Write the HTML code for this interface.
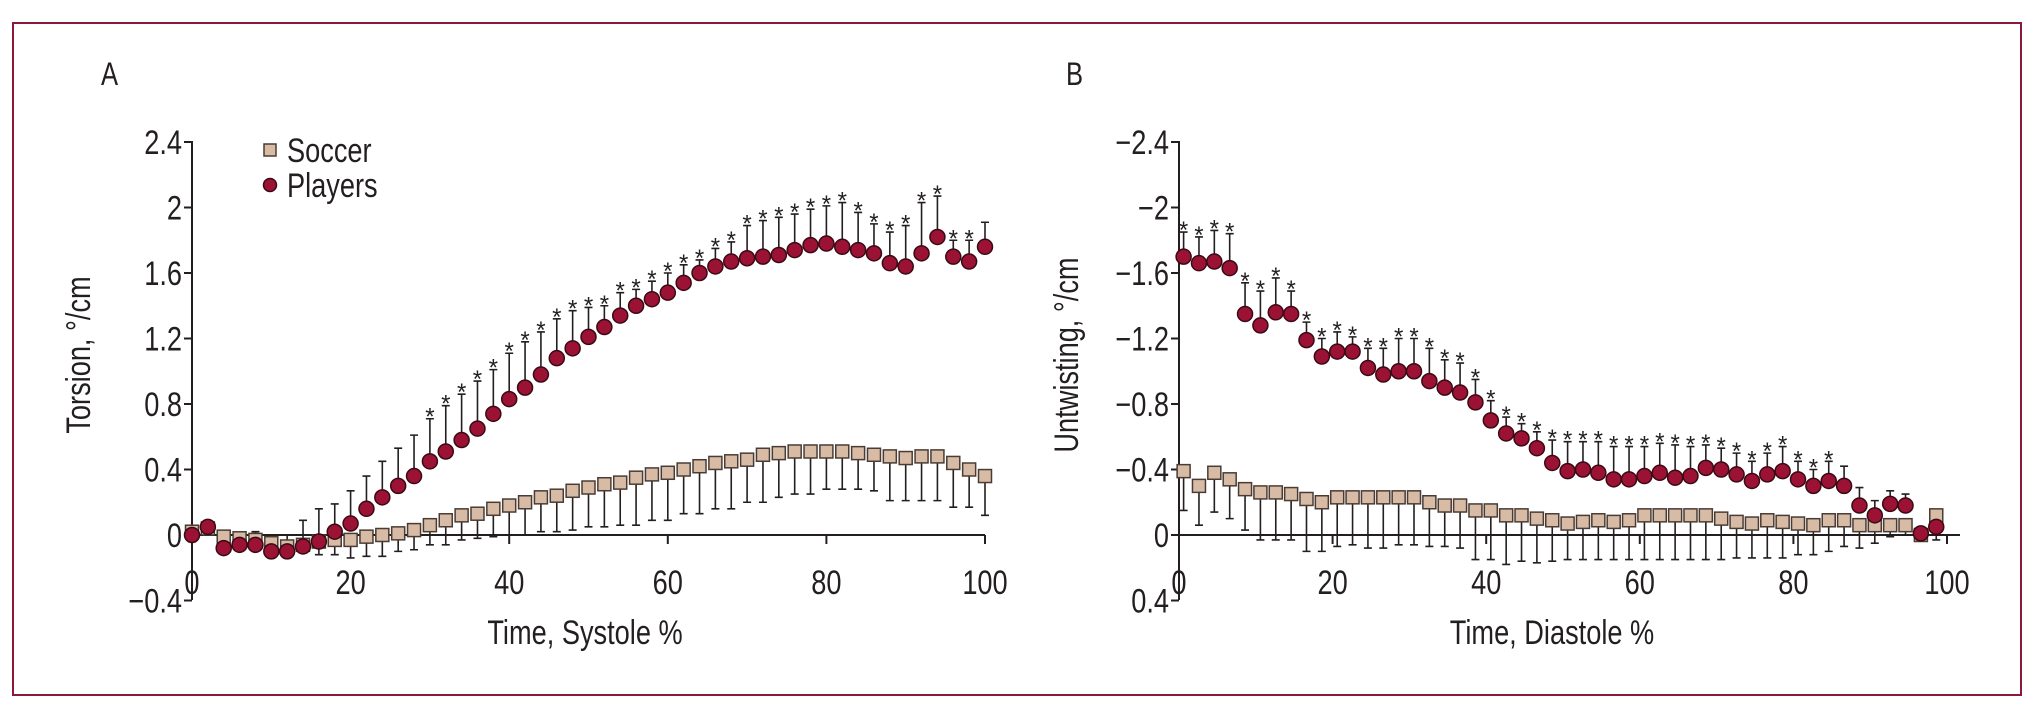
<!DOCTYPE html>
<html><head><meta charset="utf-8"><style>
html,body{margin:0;padding:0;background:#fff;}
svg text{font-family:"Liberation Sans Narrow","Liberation Sans",sans-serif;fill:#231f20;}
</style></head><body>
<svg id="chart" width="2037" height="708" xmlns="http://www.w3.org/2000/svg">
<rect x="13" y="23" width="2008" height="672" fill="#fff" stroke="#8b1a3a" stroke-width="2"/>
<g id="pa"></g>
<g id="pb"></g>
<g id="lg"></g>
</svg>
<script>
const yTicksA = [2.4, 2, 1.6, 1.2, 0.8, 0.4, 0, -0.4];
const yTickLabelsA = ["2.4","2","1.6","1.2","0.8","0.4","0","\u22120.4"];
const yTicksB = [-2.4, -2, -1.6, -1.2, -0.8, -0.4, 0, 0.4];
const yTickLabelsB = ["\u22122.4","\u22122","\u22121.6","\u22121.2","\u22120.8","\u22120.4","0","0.4"];
const xTicks = [0, 20, 40, 60, 80, 100];

const xA = [0,2,4,6,8,10,12,14,16,18,20,22,24,26,28,30,32,34,36,38,40,42,44,46,48,50,52,54,56,58,60,62,64,66,68,70,72,74,76,78,80,82,84,86,88,90,92,94,96,98,100];
const playersA = [0,0.05,-0.08,-0.06,-0.06,-0.1,-0.1,-0.07,-0.04,0.02,0.07,0.16,0.23,0.3,0.36,0.45,0.51,0.58,0.65,0.74,0.83,0.9,0.98,1.08,1.14,1.21,1.27,1.34,1.4,1.44,1.48,1.54,1.6,1.64,1.67,1.69,1.7,1.71,1.74,1.77,1.78,1.76,1.74,1.72,1.66,1.64,1.72,1.82,1.7,1.67,1.76];
const playersSdA = [0,0,0.05,0.06,0.08,0.1,0.1,0.16,0.2,0.17,0.2,0.2,0.22,0.23,0.25,0.26,0.28,0.28,0.29,0.27,0.28,0.28,0.26,0.24,0.23,0.18,0.13,0.14,0.1,0.11,0.12,0.11,0.08,0.11,0.12,0.2,0.22,0.23,0.22,0.22,0.23,0.27,0.23,0.18,0.19,0.25,0.31,0.25,0.1,0.13,0.15];
const soccerA = [0.02,0.04,-0.01,-0.02,-0.03,-0.05,-0.07,-0.06,-0.04,-0.03,-0.03,-0.01,0,0.01,0.03,0.06,0.09,0.12,0.13,0.16,0.18,0.2,0.23,0.24,0.27,0.29,0.31,0.32,0.35,0.37,0.38,0.4,0.42,0.44,0.45,0.46,0.49,0.5,0.51,0.51,0.51,0.51,0.5,0.49,0.48,0.47,0.48,0.48,0.44,0.4,0.36];
const soccerSdA = [0,0,0.03,0.04,0.05,0.05,0.06,0.04,0.08,0.09,0.11,0.12,0.13,0.11,0.12,0.12,0.15,0.15,0.15,0.17,0.18,0.2,0.21,0.22,0.24,0.24,0.26,0.26,0.29,0.28,0.29,0.27,0.29,0.28,0.29,0.26,0.29,0.27,0.26,0.26,0.23,0.23,0.22,0.22,0.27,0.26,0.27,0.27,0.27,0.23,0.24];
const starsA = [0,0,0,0,0,0,0,0,0,0,0,0,0,0,0,1,1,1,1,1,1,1,1,1,1,1,1,1,1,1,1,1,1,1,1,1,1,1,1,1,1,1,1,1,1,1,1,1,1,1,0];

const xB = [0.6,2.6,4.6,6.6,8.6,10.6,12.6,14.6,16.6,18.6,20.6,22.6,24.6,26.6,28.6,30.6,32.6,34.6,36.6,38.6,40.6,42.6,44.6,46.6,48.6,50.6,52.6,54.6,56.6,58.6,60.6,62.6,64.6,66.6,68.6,70.6,72.6,74.6,76.6,78.6,80.6,82.6,84.6,86.6,88.6,90.6,92.6,94.6,96.6,98.6];
const playersB = [-1.70,-1.66,-1.67,-1.63,-1.35,-1.28,-1.36,-1.35,-1.19,-1.09,-1.12,-1.12,-1.02,-0.98,-1.00,-1.00,-0.94,-0.90,-0.87,-0.81,-0.70,-0.62,-0.59,-0.53,-0.44,-0.39,-0.40,-0.38,-0.34,-0.34,-0.36,-0.38,-0.35,-0.36,-0.41,-0.40,-0.37,-0.33,-0.37,-0.39,-0.34,-0.30,-0.33,-0.30,-0.18,-0.12,-0.19,-0.18,-0.01,-0.05];
const playersSdB = [0.15,0.16,0.19,0.21,0.19,0.21,0.21,0.14,0.11,0.11,0.12,0.09,0.12,0.16,0.2,0.2,0.2,0.17,0.18,0.14,0.12,0.1,0.09,0.1,0.14,0.18,0.17,0.19,0.2,0.2,0.18,0.18,0.2,0.18,0.14,0.13,0.13,0.12,0.13,0.15,0.11,0.1,0.12,0.12,0.11,0.09,0.08,0.07,0,0];
const soccerB = [-0.39,-0.3,-0.38,-0.34,-0.28,-0.26,-0.26,-0.25,-0.22,-0.2,-0.23,-0.23,-0.23,-0.23,-0.23,-0.23,-0.2,-0.18,-0.18,-0.15,-0.15,-0.12,-0.12,-0.1,-0.09,-0.07,-0.08,-0.09,-0.08,-0.09,-0.12,-0.12,-0.12,-0.12,-0.12,-0.1,-0.08,-0.07,-0.09,-0.08,-0.07,-0.06,-0.09,-0.09,-0.06,-0.06,-0.06,-0.06,0,-0.12];
const soccerSdB = [0.24,0.24,0.24,0.24,0.25,0.29,0.29,0.28,0.32,0.3,0.3,0.29,0.31,0.31,0.29,0.29,0.27,0.25,0.26,0.3,0.3,0.3,0.28,0.27,0.25,0.22,0.23,0.24,0.23,0.24,0.27,0.27,0.27,0.27,0.27,0.25,0.22,0.21,0.23,0.22,0.19,0.18,0.19,0.16,0.14,0.11,0.07,0.06,0,0.15];
const starsB = [1,1,1,1,1,1,1,1,1,1,1,1,1,1,1,1,1,1,1,1,1,1,1,1,1,1,1,1,1,1,1,1,1,1,1,1,1,1,1,1,1,1,1,0,0,0,0,0,0,0];

const NS = "http://www.w3.org/2000/svg";
const SX = 0.8;
function mk(parent, tag, attrs, txt){
  const e = document.createElementNS(NS, tag);
  for (const k in attrs) e.setAttribute(k, attrs[k]);
  if (txt !== undefined) e.textContent = txt;
  parent.appendChild(e); return e;
}
function txt(parent, x, y, size, anchor, s, rot){
  const t = rot ? `translate(${x},${y}) rotate(-90) scale(${SX},1)` : `translate(${x},${y}) scale(${SX},1)`;
  return mk(parent,"text",{x:0,y:0,"font-size":size,"text-anchor":anchor,transform:t},s);
}
const Y0 = 535, PER = 163.75;
function buildPanel(g, cfg){
  const X = v => cfg.x0 + v * cfg.xs;
  const Y = v => Y0 - cfg.sign * v * PER;
  const ink = "#231f20";
  let e;
  e = txt(g,cfg.labX,85,32,"start",cfg.letter);
  
  
  e = mk(g,"line",{x1:cfg.x0,y1:141,x2:cfg.x0,y2:600,stroke:ink,"stroke-width":2});
  
  
  e = mk(g,"line",{x1:cfg.x0,y1:Y0,x2:cfg.zeroEnd,y2:Y0,stroke:ink,"stroke-width":2});
  
  
  cfg.yTicks.forEach((t,i)=>{
    const y = Y(t);
    e = mk(g,"line",{x1:cfg.x0-8,y1:y,x2:cfg.x0,y2:y,stroke:ink,"stroke-width":2});
    
    
    e = txt(g,cfg.x0-10,y+12,34,"end",cfg.yLabels[i]);
    
    
  });
  xTicks.forEach(t=>{
    const x = X(t);
    if (t>0){
      e = mk(g,"line",{x1:x,y1:Y0,x2:x,y2:Y0+9,stroke:ink,"stroke-width":2});
      
      
    }
    e = txt(g,x,594,34,"middle",String(t));
    
    
  });
  e = txt(g,cfg.xtX,644,34,"middle",cfg.xTitle);
  
  
  e = txt(g,cfg.ytX,355,34,"middle",cfg.yTitle,true);
  
  
  cfg.xv.forEach((xv,i)=>{
    const x = X(xv), v = cfg.soc[i], sd = cfg.socSd[i];
    if (sd>0){
      const yb = Y(v - cfg.sign*sd);
      e = mk(g,"path",{d:`M${x} ${Y(v)}V${yb}M${x-4} ${yb}H${x+4}`,stroke:ink,"stroke-width":1.6,fill:"none"});
      
      
    }
  });
  cfg.xv.forEach((xv,i)=>{
    const x = X(xv), v = cfg.pl[i], sd = cfg.plSd[i];
    if (sd>0){
      const yt = Y(v + cfg.sign*sd);
      e = mk(g,"path",{d:`M${x} ${Y(v)}V${yt}M${x-4} ${yt}H${x+4}`,stroke:ink,"stroke-width":1.6,fill:"none"});
      
      
    }
    if (cfg.stars[i]){
      e = mk(g,"text",{x:x,y:Y(v + cfg.sign*sd)+6,"font-size":24,"text-anchor":"middle"},"*");
      
      
    }
  });
  cfg.xv.forEach((xv,i)=>{
    const x = X(xv), y = Y(cfg.soc[i]);
    e = mk(g,"rect",{x:x-6.5,y:y-6.5,width:13,height:13,fill:"#d8bba5",stroke:"#4a3c34","stroke-width":1.5});
    
    
  });
  cfg.xv.forEach((xv,i)=>{
    const x = X(xv), y = Y(cfg.pl[i]);
    e = mk(g,"circle",{cx:x,cy:y,r:7.5,fill:"#9c1234",stroke:"#3a0a14","stroke-width":1.5});
    
    
  });
}
buildPanel(document.getElementById('pa'),{letter:"A",labX:101,x0:192,xs:7.93,zeroEnd:985,sign:1,yTicks:yTicksA,yLabels:yTickLabelsA,
  xTitle:"Time, Systole %",xtX:585,yTitle:"Torsion, \u00b0/cm",ytX:90,xv:xA,pl:playersA,plSd:playersSdA,soc:soccerA,socSd:soccerSdA,stars:starsA});
buildPanel(document.getElementById('pb'),{letter:"B",labX:1066,x0:1179,xs:7.68,zeroEnd:1960,sign:-1,yTicks:yTicksB,yLabels:yTickLabelsB,
  xTitle:"Time, Diastole %",xtX:1552,yTitle:"Untwisting, \u00b0/cm",ytX:1078,xv:xB,pl:playersB,plSd:playersSdB,soc:soccerB,socSd:soccerSdB,stars:starsB});

const lg = document.getElementById('lg');
let le;
le = mk(lg,"rect",{x:264,y:144,width:12,height:12,fill:"#d8bba5",stroke:"#4a3c34","stroke-width":1.5});


le = txt(lg,287,162,34,"start","Soccer");


le = mk(lg,"circle",{cx:270,cy:185,r:6.5,fill:"#9c1234",stroke:"#3a0a14","stroke-width":1.5});


le = txt(lg,287,197,34,"start","Players");


</script>
</body></html>
